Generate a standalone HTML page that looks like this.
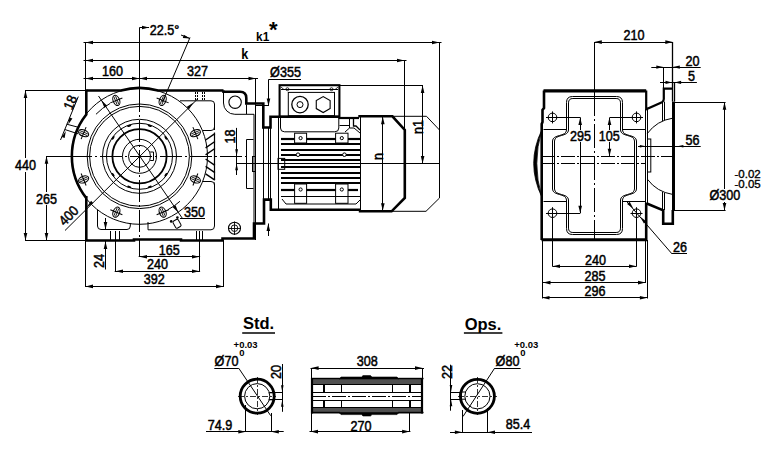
<!DOCTYPE html>
<html><head><meta charset="utf-8"><style>
html,body{margin:0;padding:0;background:#fff;}
svg{display:block;}
</style></head><body>
<svg width="782" height="452" viewBox="0 0 782 452" style="font-family:'Liberation Sans',sans-serif" stroke="#000" fill="none" stroke-linecap="butt">
<rect x="0" y="0" width="782" height="452" fill="#fff" stroke="none"/>
<g fill="#000">
<line x1="83.5" y1="42.5" x2="441.5" y2="42.5" stroke-width="1"/>
<path d="M85.5 42.5 L93 40.7 L93 44.3 Z" fill="#000" stroke="none"/>
<path d="M439.5 42.5 L432 44.3 L432 40.7 Z" fill="#000" stroke="none"/>
<line x1="83.5" y1="60.5" x2="406.5" y2="60.5" stroke-width="1"/>
<path d="M85.5 60.5 L93 58.7 L93 62.3 Z" fill="#000" stroke="none"/>
<path d="M404.5 60.5 L397 62.3 L397 58.7 Z" fill="#000" stroke="none"/>
<line x1="83.5" y1="78.5" x2="258" y2="78.5" stroke-width="1"/>
<path d="M85.5 78.5 L93 76.7 L93 80.3 Z" fill="#000" stroke="none"/>
<path d="M139.5 78.5 L132 80.3 L132 76.7 Z" fill="#000" stroke="none"/>
<path d="M139.5 78.5 L147 76.7 L147 80.3 Z" fill="#000" stroke="none"/>
<path d="M256 78.5 L248.5 80.3 L248.5 76.7 Z" fill="#000" stroke="none"/>
<line x1="85.5" y1="42" x2="85.5" y2="90" stroke-width="1"/>
<line x1="439.5" y1="42" x2="439.5" y2="198" stroke-width="1"/>
<line x1="404.5" y1="60" x2="404.5" y2="130" stroke-width="1"/>
<line x1="255.5" y1="78" x2="255.5" y2="240" stroke-width="1"/>
<text x="0" y="0" font-size="14" text-anchor="middle" font-weight="normal" stroke="#000" stroke-width="0.5" transform="translate(112.5 76) scale(0.9 1)">160</text>
<text x="0" y="0" font-size="14" text-anchor="middle" font-weight="normal" stroke="#000" stroke-width="0.5" transform="translate(197.5 76) scale(0.9 1)">327</text>
<text x="0" y="0" font-size="14" text-anchor="middle" font-weight="bold" stroke="#000" stroke-width="0" transform="translate(244.8 58.5) scale(0.9 1)">k</text>
<text x="0" y="0" font-size="13.2" text-anchor="middle" font-weight="bold" stroke="#000" stroke-width="0" transform="translate(262.7 41) scale(0.9 1)">k1</text>
<text x="0" y="0" font-size="22" text-anchor="middle" font-weight="bold" stroke="#000" stroke-width="0" transform="translate(273.4 37)">*</text>
<line x1="139.5" y1="27.5" x2="139.5" y2="90" stroke-width="1"/>
<line x1="139.5" y1="27.5" x2="149" y2="27.5" stroke-width="1"/>
<path d="M149 27.5 L142 29.2 L142 25.8 Z" fill="#000" stroke="none"/>
<text x="0" y="0" font-size="14" text-anchor="middle" font-weight="normal" stroke="#000" stroke-width="0.5" transform="translate(164.5 34.6) scale(0.9 1)">22.5°</text>
<line x1="181" y1="35" x2="190" y2="38.5" stroke-width="1"/>
<path d="M190 38.5 L182.82 37.95 L183.87 34.72 Z" fill="#000" stroke="none"/>
<line x1="190" y1="37.5" x2="162.5" y2="102" stroke-width="1"/>
<line x1="25" y1="90.5" x2="86" y2="90.5" stroke-width="1"/>
<line x1="25" y1="240.5" x2="86" y2="240.5" stroke-width="1"/>
<line x1="25.5" y1="90.5" x2="25.5" y2="240.5" stroke-width="1"/>
<path d="M25.5 90.5 L27.3 98 L23.7 98 Z" fill="#000" stroke="none"/>
<path d="M25.5 240.5 L23.7 233 L27.3 233 Z" fill="#000" stroke="none"/>
<line x1="46.5" y1="156.3" x2="46.5" y2="240.5" stroke-width="1"/>
<path d="M46.5 156.3 L48.3 163.8 L44.7 163.8 Z" fill="#000" stroke="none"/>
<path d="M46.5 240.5 L44.7 233 L48.3 233 Z" fill="#000" stroke="none"/>
<rect x="14" y="158" width="23" height="14" fill="#fff" stroke="none"/>
<text x="0" y="0" font-size="14" text-anchor="middle" font-weight="normal" stroke="#000" stroke-width="0.5" transform="translate(25.5 170) scale(0.9 1)">440</text>
<rect x="35" y="192" width="23" height="13" fill="#fff" stroke="none"/>
<text x="0" y="0" font-size="14" text-anchor="middle" font-weight="normal" stroke="#000" stroke-width="0.5" transform="translate(46.5 203.5) scale(0.9 1)">265</text>
<line x1="46" y1="156.5" x2="70" y2="156.5" stroke-width="1"/>
<line x1="70" y1="156.5" x2="246.5" y2="156.5" stroke-width="1" stroke-dasharray="22 3 2 3"/>
<line x1="139.5" y1="90" x2="139.5" y2="240" stroke-width="1" stroke-dasharray="22 3 2 3"/>
<circle cx="139.5" cy="156.3" r="68" stroke-width="1" fill="none"/>
<path d="M95.98 114.27 A60.5 60.5 0 0 1 110.17 103.39" stroke-width="1" fill="none"/>
<path d="M179.98 201.26 A60.5 60.5 0 0 1 167.9 209.72" stroke-width="1" fill="none"/>
<circle cx="139.5" cy="156.3" r="52.3" stroke-width="1" fill="none"/>
<circle cx="139.5" cy="156.3" r="49.9" stroke-width="1" fill="none"/>
<circle cx="139.5" cy="156.3" r="37" stroke-width="1" fill="none"/>
<circle cx="139.5" cy="156.3" r="33" stroke-width="1" fill="none"/>
<circle cx="139.5" cy="156.3" r="27.1" stroke-width="1.8" fill="none"/>
<circle cx="139.5" cy="156.3" r="17" stroke-width="1" fill="none"/>
<circle cx="139.5" cy="156.3" r="11" stroke-width="1" fill="none"/>
<path d="M150.2 152 L153.5 152 L153.5 160.5 L150.2 160.5" stroke-width="1" fill="none"/>
<ellipse cx="149.72" cy="125.76" rx="2.1" ry="1" transform="rotate(18.5 149.72 125.76)" fill="#000" stroke="none"/>
<ellipse cx="129.28" cy="125.76" rx="2.1" ry="1" transform="rotate(-18.5 129.28 125.76)" fill="#000" stroke="none"/>
<ellipse cx="165.88" cy="137.83" rx="2.1" ry="1" transform="rotate(55 165.88 137.83)" fill="#000" stroke="none"/>
<ellipse cx="113.12" cy="137.83" rx="2.1" ry="1" transform="rotate(-55 113.12 137.83)" fill="#000" stroke="none"/>
<ellipse cx="165.88" cy="174.77" rx="2.1" ry="1" transform="rotate(125 165.88 174.77)" fill="#000" stroke="none"/>
<ellipse cx="113.12" cy="174.77" rx="2.1" ry="1" transform="rotate(-125 113.12 174.77)" fill="#000" stroke="none"/>
<ellipse cx="149.72" cy="186.84" rx="2.1" ry="1" transform="rotate(161.5 149.72 186.84)" fill="#000" stroke="none"/>
<ellipse cx="129.28" cy="186.84" rx="2.1" ry="1" transform="rotate(-161.5 129.28 186.84)" fill="#000" stroke="none"/>
<g transform="translate(162.65 100.41) rotate(22.5)"><ellipse cx="0" cy="0" rx="3.2" ry="5.3" stroke-width="1.1" fill="none"/><line x1="-6.5" y1="0" x2="6.5" y2="0" stroke-width="1"/><line x1="-0.9" y1="-4.2" x2="-0.9" y2="4.2" stroke-width="0.8"/><line x1="0.9" y1="-4.2" x2="0.9" y2="4.2" stroke-width="0.8"/></g>
<g transform="translate(195.39 133.15) rotate(67.5)"><ellipse cx="0" cy="0" rx="3.2" ry="5.3" stroke-width="1.1" fill="none"/><line x1="-6.5" y1="0" x2="6.5" y2="0" stroke-width="1"/><line x1="-0.9" y1="-4.2" x2="-0.9" y2="4.2" stroke-width="0.8"/><line x1="0.9" y1="-4.2" x2="0.9" y2="4.2" stroke-width="0.8"/></g>
<g transform="translate(195.39 179.45) rotate(112.5)"><ellipse cx="0" cy="0" rx="3.2" ry="5.3" stroke-width="1.1" fill="none"/><line x1="-6.5" y1="0" x2="6.5" y2="0" stroke-width="1"/><line x1="-0.9" y1="-4.2" x2="-0.9" y2="4.2" stroke-width="0.8"/><line x1="0.9" y1="-4.2" x2="0.9" y2="4.2" stroke-width="0.8"/></g>
<g transform="translate(162.65 212.19) rotate(157.5)"><ellipse cx="0" cy="0" rx="3.2" ry="5.3" stroke-width="1.1" fill="none"/><line x1="-6.5" y1="0" x2="6.5" y2="0" stroke-width="1"/><line x1="-0.9" y1="-4.2" x2="-0.9" y2="4.2" stroke-width="0.8"/><line x1="0.9" y1="-4.2" x2="0.9" y2="4.2" stroke-width="0.8"/></g>
<g transform="translate(116.35 212.19) rotate(202.5)"><ellipse cx="0" cy="0" rx="3.2" ry="5.3" stroke-width="1.1" fill="none"/><line x1="-6.5" y1="0" x2="6.5" y2="0" stroke-width="1"/><line x1="-0.9" y1="-4.2" x2="-0.9" y2="4.2" stroke-width="0.8"/><line x1="0.9" y1="-4.2" x2="0.9" y2="4.2" stroke-width="0.8"/></g>
<g transform="translate(83.61 179.45) rotate(247.5)"><ellipse cx="0" cy="0" rx="3.2" ry="5.3" stroke-width="1.1" fill="none"/><line x1="-6.5" y1="0" x2="6.5" y2="0" stroke-width="1"/><line x1="-0.9" y1="-4.2" x2="-0.9" y2="4.2" stroke-width="0.8"/><line x1="0.9" y1="-4.2" x2="0.9" y2="4.2" stroke-width="0.8"/></g>
<g transform="translate(83.61 133.15) rotate(292.5)"><ellipse cx="0" cy="0" rx="3.2" ry="5.3" stroke-width="1.1" fill="none"/><line x1="-6.5" y1="0" x2="6.5" y2="0" stroke-width="1"/><line x1="-0.9" y1="-4.2" x2="-0.9" y2="4.2" stroke-width="0.8"/><line x1="0.9" y1="-4.2" x2="0.9" y2="4.2" stroke-width="0.8"/></g>
<g transform="translate(116.35 100.41) rotate(337.5)"><ellipse cx="0" cy="0" rx="3.2" ry="5.3" stroke-width="1.1" fill="none"/><line x1="-6.5" y1="0" x2="6.5" y2="0" stroke-width="1"/><line x1="-0.9" y1="-4.2" x2="-0.9" y2="4.2" stroke-width="0.8"/><line x1="0.9" y1="-4.2" x2="0.9" y2="4.2" stroke-width="0.8"/></g>
<path d="M86.3 90.5 L121 90.5 A68.3 68.3 0 0 1 158 90.5 L180 90.5 L223.5 90.5" stroke-width="2.6" fill="none"/>
<path d="M86.3 89.5 L86.3 114.5 A67.7 67.7 0 0 0 86.3 198.1" stroke-width="2.6" fill="none"/>
<path d="M86.3 196 L86.3 240.5 L134 240.5 L134 239.5 L181 239.5 L181 240.5 L222.5 240.5 L222.5 238.5 L254 238.5 L254 223.5 L264 223.5 L264 199.6 L270.8 199.6 L270.8 209.8 L285 209.8" stroke-width="2.6" fill="none"/>
<path d="M223.5 90.3 L223.5 91.8 L240 91.8 Q246.3 91.8 246.3 98 L246.3 103.5 L263.3 103.5 L263.3 127.5 L270.5 127.5 L270.5 116.8 L280 116.8" stroke-width="2.6" fill="none"/>
<circle cx="235.1" cy="102.2" r="6.2" stroke-width="1.1" fill="none"/>
<path d="M223.5 92 L223.5 103 A11.3 11.3 0 0 0 234.8 114.3 L254 114.3 L254 223.5" stroke-width="1" fill="none"/>
<line x1="246.5" y1="104.5" x2="246.5" y2="114" stroke-width="1"/>
<path d="M180 100.8 L211 100.8 Q214.5 100.8 214.5 104 L214.5 130" stroke-width="1" fill="none"/>
<path d="M214.5 182.5 Q214.5 182.5 214.5 186 L214.5 226 Q214.5 229.8 211 229.8 L148 229.8 Q148 229.8 148 226 L148 222" stroke-width="1" fill="none"/>
<path d="M130.3 223 L130.3 226 Q130.3 229.5 127 229.5 L101 229.5 Q97.5 229.5 97.5 226 L97.5 209.8" stroke-width="1" fill="none"/>
<line x1="205.6" y1="140" x2="214.9" y2="133.7" stroke-width="1.4"/>
<line x1="205.6" y1="147.8" x2="214.9" y2="141.5" stroke-width="1.4"/>
<line x1="205.6" y1="154.8" x2="214.9" y2="148.5" stroke-width="1.4"/>
<line x1="205.6" y1="159" x2="214.9" y2="165.3" stroke-width="1.4"/>
<line x1="205.6" y1="166.4" x2="214.9" y2="172.7" stroke-width="1.4"/>
<line x1="205.6" y1="173.8" x2="214.9" y2="180.1" stroke-width="1.4"/>
<line x1="214.5" y1="132.5" x2="214.5" y2="179.5" stroke-width="1.2"/>
<path d="M202.4 130.5 L211 130.5 Q214.5 130.5 214.5 127" stroke-width="1" fill="none"/>
<path d="M202.7 181.5 L211 181.5 Q214.5 181.5 214.5 185" stroke-width="1" fill="none"/>
<circle cx="234.5" cy="228.2" r="6" stroke-width="1.1" fill="none"/>
<circle cx="234.5" cy="228.2" r="3.3" stroke-width="0.9" fill="none"/>
<line x1="228" y1="228.5" x2="241" y2="228.5" stroke-width="0.9"/>
<line x1="234.5" y1="221.5" x2="234.5" y2="235" stroke-width="0.9"/>
<line x1="195.5" y1="92" x2="195.5" y2="100" stroke-width="1" stroke-dasharray="2 1"/>
<line x1="197.5" y1="92" x2="197.5" y2="100" stroke-width="1" stroke-dasharray="2 1"/>
<line x1="202.5" y1="92" x2="202.5" y2="100" stroke-width="1" stroke-dasharray="2 1"/>
<line x1="204.5" y1="92" x2="204.5" y2="100" stroke-width="1" stroke-dasharray="2 1"/>
<line x1="110.5" y1="231" x2="110.5" y2="240" stroke-width="1"/>
<line x1="115.5" y1="231" x2="115.5" y2="240" stroke-width="1"/>
<line x1="119.5" y1="231" x2="119.5" y2="240" stroke-width="1"/>
<line x1="196.5" y1="231" x2="196.5" y2="240" stroke-width="1"/>
<line x1="199.5" y1="231" x2="199.5" y2="240" stroke-width="1"/>
<line x1="202.5" y1="231" x2="202.5" y2="240" stroke-width="1"/>
<path d="M253.5 139.5 L246.5 139.5 L246.5 188.5 L253.5 188.5" stroke-width="1" fill="none"/>
<rect x="252.5" y="156.5" width="3" height="15" rx="0" stroke-width="1" fill="none"/>
<line x1="255.4" y1="105.5" x2="268.2" y2="105.5" stroke-width="1"/>
<line x1="263.5" y1="127.5" x2="263.5" y2="199.6" stroke-width="1"/>
<line x1="268.5" y1="127.5" x2="268.5" y2="199.6" stroke-width="1"/>
<line x1="270.5" y1="127.5" x2="270.5" y2="199.6" stroke-width="1"/>
<line x1="278.5" y1="116.8" x2="278.5" y2="209.8" stroke-width="1"/>
<rect x="278" y="158.4" width="6.7" height="10.9" rx="0" stroke-width="1" fill="none"/>
<line x1="236.5" y1="127.9" x2="236.5" y2="175" stroke-width="1"/>
<path d="M236.6 156.3 L235.2 149.3 L238 149.3 Z" fill="#000" stroke="none"/>
<path d="M236.6 163.3 L238 170.3 L235.2 170.3 Z" fill="#000" stroke="none"/>
<line x1="236" y1="163.5" x2="440" y2="163.5" stroke-width="1"/>
<text x="0" y="0" font-size="14" text-anchor="middle" font-weight="normal" stroke="#000" stroke-width="0.5" transform="translate(235 136.5) rotate(-90) scale(0.9 1)">18</text>
<line x1="98.5" y1="96" x2="182.5" y2="218.5" stroke-width="1"/>
<path d="M101.3 100.2 L107.22 105.84 L104.42 107.76 Z" fill="#000" stroke="none"/>
<line x1="65" y1="230.5" x2="197" y2="99.5" stroke-width="1"/>
<path d="M193.5 102.5 L189.05 109.36 L186.64 106.95 Z" fill="#000" stroke="none"/>
<path d="M86.5 207.5 L91.1 200.78 L93.22 202.9 Z" fill="#000" stroke="none"/>
<text x="0" y="0" font-size="14" text-anchor="middle" font-weight="normal" stroke="#000" stroke-width="0.5" transform="translate(72 219) rotate(-45) scale(0.9 1)">400</text>
<text x="0" y="0" font-size="14" text-anchor="middle" font-weight="normal" stroke="#000" stroke-width="0.5" transform="translate(194.5 216.5) scale(0.9 1)">350</text>
<line x1="180" y1="218.5" x2="205" y2="218.5" stroke-width="1"/>
<path d="M178.4 212.4 L172.76 207.17 L175.57 205.25 Z" fill="#000" stroke="none"/>
<circle cx="177.4" cy="217.6" r="1.3" stroke-width="0" fill="#000"/>
<circle cx="171.2" cy="221.4" r="1.3" stroke-width="0" fill="#000"/>
<g transform="translate(176 222) rotate(-30)"><rect x="-3" y="-2" width="6" height="8" rx="1.5" stroke-width="1" fill="#fff"/></g>
<line x1="60.5" y1="140" x2="78.3" y2="96.6" stroke-width="1"/>
<line x1="66.7" y1="124.2" x2="78" y2="127.2" stroke-width="1"/>
<line x1="64.8" y1="129.5" x2="78" y2="133.8" stroke-width="1"/>
<path d="M68.3 124.5 L69.44 117.41 L72.41 118.61 Z" fill="#000" stroke="none"/>
<path d="M65.8 131 L64.66 138.09 L61.69 136.89 Z" fill="#000" stroke="none"/>
<text x="0" y="0" font-size="14" text-anchor="middle" font-weight="normal" stroke="#000" stroke-width="0.5" transform="translate(74.8 104.3) rotate(-67.5) scale(0.9 1)">18</text>
<line x1="105.5" y1="241" x2="105.5" y2="269.5" stroke-width="1"/>
<path d="M105.5 241.5 L107.3 249 L103.7 249 Z" fill="#000" stroke="none"/>
<line x1="105.5" y1="218" x2="105.5" y2="229.5" stroke-width="1"/>
<path d="M105.5 229.5 L103.7 222 L107.3 222 Z" fill="#000" stroke="none"/>
<text x="0" y="0" font-size="14" text-anchor="middle" font-weight="normal" stroke="#000" stroke-width="0.5" transform="translate(104 261) rotate(-90) scale(0.9 1)">24</text>
<line x1="138.7" y1="256.5" x2="200.1" y2="256.5" stroke-width="1"/>
<path d="M139.5 256.7 L147 254.9 L147 258.5 Z" fill="#000" stroke="none"/>
<path d="M199.5 256.7 L192 258.5 L192 254.9 Z" fill="#000" stroke="none"/>
<line x1="139.5" y1="240" x2="139.5" y2="257" stroke-width="1"/>
<line x1="199.5" y1="240" x2="199.5" y2="271" stroke-width="1"/>
<text x="0" y="0" font-size="14" text-anchor="middle" font-weight="normal" stroke="#000" stroke-width="0.5" transform="translate(169.2 254.8) scale(0.9 1)">165</text>
<line x1="114.7" y1="271.5" x2="200.1" y2="271.5" stroke-width="1"/>
<path d="M115.5 271.2 L123 269.4 L123 273 Z" fill="#000" stroke="none"/>
<path d="M199.5 271.2 L192 273 L192 269.4 Z" fill="#000" stroke="none"/>
<line x1="115.5" y1="240" x2="115.5" y2="271.5" stroke-width="1"/>
<text x="0" y="0" font-size="14" text-anchor="middle" font-weight="normal" stroke="#000" stroke-width="0.5" transform="translate(157.4 269.1) scale(0.9 1)">240</text>
<line x1="85.5" y1="286.5" x2="224" y2="286.5" stroke-width="1"/>
<path d="M85.5 286.4 L93 284.6 L93 288.2 Z" fill="#000" stroke="none"/>
<path d="M223.5 286.4 L216 288.2 L216 284.6 Z" fill="#000" stroke="none"/>
<line x1="85.5" y1="240" x2="85.5" y2="287" stroke-width="1"/>
<line x1="223.5" y1="240" x2="223.5" y2="287" stroke-width="1"/>
<text x="0" y="0" font-size="14" text-anchor="middle" font-weight="normal" stroke="#000" stroke-width="0.5" transform="translate(154.2 284) scale(0.9 1)">392</text>
<line x1="268.5" y1="79.5" x2="301" y2="79.5" stroke-width="1"/>
<line x1="268.5" y1="79.5" x2="268.5" y2="106" stroke-width="1"/>
<path d="M268.5 106 L266.7 98.5 L270.3 98.5 Z" fill="#000" stroke="none"/>
<text x="0" y="0" font-size="14" text-anchor="middle" font-weight="normal" stroke="#000" stroke-width="0.5" transform="translate(285.5 76.6) scale(0.9 1)">Ø355</text>
<line x1="268.5" y1="223.5" x2="268.5" y2="236" stroke-width="1"/>
<path d="M268.3 223.5 L270.1 231 L266.5 231 Z" fill="#000" stroke="none"/>
<rect x="279.6" y="85.2" width="59.8" height="31.5" rx="0" stroke-width="2.1" fill="none"/>
<line x1="281" y1="89.5" x2="338" y2="89.5" stroke-width="1"/>
<line x1="281" y1="87" x2="284" y2="89.6" stroke-width="0.8"/>
<line x1="338" y1="87" x2="335" y2="89.6" stroke-width="0.8"/>
<circle cx="287.4" cy="89.2" r="1.5" stroke-width="0.8" fill="none"/>
<circle cx="331.5" cy="89.2" r="1.5" stroke-width="0.8" fill="none"/>
<rect x="288.3" y="92.4" width="46.2" height="23.3" rx="0" stroke-width="1" fill="none"/>
<circle cx="300" cy="104.6" r="8.2" stroke-width="1.3" fill="none"/>
<circle cx="300" cy="104.6" r="3" stroke-width="1" fill="none"/>
<path d="M330.13 108.6 L323.2 112.6 L316.27 108.6 L316.27 100.6 L323.2 96.6 L330.13 100.6 Z" stroke-width="1.1" fill="none"/>
<path d="M280.5 116.8 L280.5 128 Q280.5 131.8 284.5 131.8 L334.8 131.8 Q338.8 131.8 338.8 128 L338.8 116.8" stroke-width="1" fill="none"/>
<line x1="339.5" y1="85.5" x2="423" y2="85.5" stroke-width="1"/>
<path d="M280 116.8 L339.5 116.8" stroke-width="2.6" fill="none"/>
<line x1="338.5" y1="118" x2="359" y2="118" stroke-width="2.2"/>
<line x1="339.5" y1="125.5" x2="349.5" y2="125.5" stroke-width="1"/>
<line x1="349.5" y1="119" x2="349.5" y2="128" stroke-width="1"/>
<path d="M345 132 L349.5 128 L354 128 L360 133" stroke-width="1" fill="none"/>
<path d="M353.5 119 L353.5 126 L356 126 L360 130" stroke-width="1.3" fill="none"/>
<path d="M358.3 116.3 L392.4 116.3 L404.8 130 L404.8 198 L391.6 211.3 L358.8 211.3" stroke-width="2.6" fill="none"/>
<path d="M392.4 116.3 L426.5 116.3 L439.5 130 L439.5 198 L426 211.3 L391.6 211.3" stroke-width="1" fill="none"/>
<line x1="360.5" y1="116.3" x2="360.5" y2="211.3" stroke-width="1"/>
<path d="M285 209.8 L360 209.8" stroke-width="2.6" fill="none"/>
<line x1="281" y1="144" x2="360" y2="144" stroke-width="2.2"/>
<line x1="281" y1="150" x2="360" y2="150" stroke-width="2.2"/>
<line x1="281" y1="155" x2="360" y2="155" stroke-width="2.2"/>
<line x1="281" y1="160" x2="360" y2="160" stroke-width="2.2"/>
<line x1="281" y1="167" x2="360" y2="167" stroke-width="2.2"/>
<line x1="281" y1="173" x2="360" y2="173" stroke-width="2.2"/>
<line x1="281" y1="178" x2="360" y2="178" stroke-width="2.2"/>
<line x1="281" y1="183" x2="360" y2="183" stroke-width="2.2"/>
<line x1="281" y1="139" x2="294.6" y2="139" stroke-width="2.2"/>
<line x1="306.6" y1="139" x2="336" y2="139" stroke-width="2.2"/>
<line x1="348" y1="139" x2="360" y2="139" stroke-width="2.2"/>
<line x1="281" y1="190" x2="294.6" y2="190" stroke-width="2.2"/>
<line x1="306.6" y1="190" x2="335.6" y2="190" stroke-width="2.2"/>
<line x1="348" y1="190" x2="358" y2="190" stroke-width="2.2"/>
<rect x="294.6" y="133.2" width="12" height="9.8" rx="0" stroke-width="1" fill="none"/>
<circle cx="300.6" cy="138.1" r="1.6" stroke-width="1" fill="none"/>
<rect x="294.6" y="184" width="12" height="19.3" rx="0" stroke-width="1" fill="none"/>
<circle cx="300.6" cy="189.5" r="1.6" stroke-width="1" fill="none"/>
<rect x="335.6" y="133.2" width="12.4" height="9.8" rx="0" stroke-width="1" fill="none"/>
<circle cx="341.8" cy="138.1" r="1.6" stroke-width="1" fill="none"/>
<rect x="335.6" y="184" width="12.4" height="19.3" rx="0" stroke-width="1" fill="none"/>
<circle cx="341.8" cy="189.5" r="1.6" stroke-width="1" fill="none"/>
<line x1="281" y1="196.5" x2="360" y2="196.5" stroke-width="1"/>
<circle cx="298" cy="154.7" r="1.8" stroke-width="1" fill="#fff"/>
<circle cx="344.4" cy="154.7" r="1.8" stroke-width="1" fill="#fff"/>
<path d="M282 199 L286 204 L356 204 L360 200" stroke-width="1" fill="none"/>
<line x1="382.5" y1="116.3" x2="382.5" y2="211.3" stroke-width="1"/>
<path d="M382.8 116.8 L384.6 124.3 L381 124.3 Z" fill="#000" stroke="none"/>
<path d="M382.8 210.8 L381 203.3 L384.6 203.3 Z" fill="#000" stroke="none"/>
<text x="0" y="0" font-size="14" text-anchor="middle" font-weight="normal" stroke="#000" stroke-width="0.5" transform="translate(383 156.5) rotate(-90) scale(0.9 1)">n</text>
<line x1="422.5" y1="85.5" x2="422.5" y2="163.4" stroke-width="1"/>
<path d="M422.6 85.5 L424.4 93 L420.8 93 Z" fill="#000" stroke="none"/>
<path d="M422.6 163.4 L420.8 155.9 L424.4 155.9 Z" fill="#000" stroke="none"/>
<text x="0" y="0" font-size="14" text-anchor="middle" font-weight="normal" stroke="#000" stroke-width="0.5" transform="translate(423 127) rotate(-90) scale(0.9 1)">n1</text>
<line x1="594.5" y1="42.5" x2="672.8" y2="42.5" stroke-width="1"/>
<path d="M594.3 42.1 L601.8 40.3 L601.8 43.9 Z" fill="#000" stroke="none"/>
<path d="M672.8 42.1 L665.3 43.9 L665.3 40.3 Z" fill="#000" stroke="none"/>
<text x="0" y="0" font-size="14" text-anchor="middle" font-weight="normal" stroke="#000" stroke-width="0.5" transform="translate(634 40) scale(0.9 1)">210</text>
<line x1="594.5" y1="42" x2="594.5" y2="92" stroke-width="1"/>
<line x1="594.5" y1="92" x2="594.5" y2="240" stroke-width="1" stroke-dasharray="24 3 2 3"/>
<line x1="651.3" y1="67.5" x2="700.7" y2="67.5" stroke-width="1"/>
<path d="M663.3 67.1 L656.3 68.8 L656.3 65.4 Z" fill="#000" stroke="none"/>
<path d="M672.8 67.1 L679.8 65.4 L679.8 68.8 Z" fill="#000" stroke="none"/>
<line x1="663.5" y1="67" x2="663.5" y2="89" stroke-width="1"/>
<text x="0" y="0" font-size="14" text-anchor="middle" font-weight="normal" stroke="#000" stroke-width="0.5" transform="translate(692.6 65.8) scale(0.9 1)">20</text>
<line x1="660" y1="82.5" x2="696.9" y2="82.5" stroke-width="1"/>
<path d="M672 82.4 L665.5 84 L665.5 80.8 Z" fill="#000" stroke="none"/>
<path d="M674.6 82.4 L681.1 80.8 L681.1 84 Z" fill="#000" stroke="none"/>
<line x1="674.5" y1="82" x2="674.5" y2="89" stroke-width="1"/>
<text x="0" y="0" font-size="14" text-anchor="middle" font-weight="normal" stroke="#000" stroke-width="0.5" transform="translate(691.5 80.7) scale(0.9 1)">5</text>
<path d="M543.5 90.8 L646.2 90.8" stroke-width="3.2" fill="none"/>
<path d="M544 90.5 L544 108 L542.5 110 L542.5 122 L541.7 124 L541.7 240" stroke-width="2.6" fill="none"/>
<path d="M646.2 90.5 L646.2 109.3 L662 102.2 Q663.8 101.2 663.8 99 L663.8 88.6 L672.6 88.6" stroke-width="2.21" fill="none"/>
<line x1="673.5" y1="101.6" x2="673.5" y2="210.5" stroke-width="3"/>
<line x1="672.5" y1="42" x2="672.5" y2="101.6" stroke-width="1.3"/>
<line x1="674.5" y1="82" x2="674.5" y2="101.6" stroke-width="1.3"/>
<path d="M646.2 203.2 L663.2 210.4 L663.2 223.7 L672.8 223.7 L672.8 209.9" stroke-width="2.6" fill="none"/>
<path d="M646.2 203 L646.2 240" stroke-width="2.6" fill="none"/>
<path d="M541.5 239.8 L647 239.8" stroke-width="3" fill="none"/>
<path d="M541.8 130 Q525.6 163.3 541.8 197 Q531.8 163.3 541.8 130 Z" fill="#000" stroke-width="0.8"/>
<path d="M566.5 130 L566.5 102.5 Q566.5 96.5 572.5 96.5 L616.5 96.5 Q622.5 96.5 622.5 102.5 L622.5 130 C622.5 137 636.5 134 636.5 141 L636.5 189 C636.5 196 622.5 193 622.5 200 L622.5 228.5 Q622.5 234.5 616.5 234.5 L572.5 234.5 Q566.5 234.5 566.5 228.5 L566.5 200 C566.5 193 552.5 196 552.5 189 L552.5 141 C552.5 134 566.5 137 566.5 130 Z" stroke-width="1" fill="none"/>
<path d="M568.5 130 L568.5 102.9 Q568.5 98.5 572.9 98.5 L616.1 98.5 Q620.5 98.5 620.5 102.9 L620.5 130 C620.5 137 634.5 134 634.5 141 L634.5 189 C634.5 196 620.5 193 620.5 200 L620.5 228.1 Q620.5 232.5 616.1 232.5 L572.9 232.5 Q568.5 232.5 568.5 228.1 L568.5 200 C568.5 193 554.5 196 554.5 189 L554.5 141 C554.5 134 568.5 137 568.5 130 Z" stroke-width="1" fill="none"/>
<circle cx="552.5" cy="117.4" r="4.3" stroke-width="1" fill="none"/>
<line x1="546.5" y1="117.5" x2="558.5" y2="117.5" stroke-width="1"/>
<line x1="552.5" y1="111.4" x2="552.5" y2="123.4" stroke-width="1"/>
<circle cx="636.5" cy="117.4" r="4.3" stroke-width="1" fill="none"/>
<line x1="630.5" y1="117.5" x2="642.5" y2="117.5" stroke-width="1"/>
<line x1="636.5" y1="111.4" x2="636.5" y2="123.4" stroke-width="1"/>
<circle cx="552.5" cy="213.2" r="4.3" stroke-width="1" fill="none"/>
<line x1="546.5" y1="213.5" x2="558.5" y2="213.5" stroke-width="1"/>
<line x1="552.5" y1="207.2" x2="552.5" y2="219.2" stroke-width="1"/>
<circle cx="636.5" cy="213.2" r="4.3" stroke-width="1" fill="none"/>
<line x1="630.5" y1="213.5" x2="642.5" y2="213.5" stroke-width="1"/>
<line x1="636.5" y1="207.2" x2="636.5" y2="219.2" stroke-width="1"/>
<line x1="546" y1="117.5" x2="580.2" y2="117.5" stroke-width="1"/>
<line x1="610" y1="117.5" x2="643" y2="117.5" stroke-width="1"/>
<line x1="546" y1="213.5" x2="580.2" y2="213.5" stroke-width="1"/>
<line x1="543.5" y1="129.5" x2="566.8" y2="129.5" stroke-width="1"/>
<line x1="623" y1="129.5" x2="646" y2="129.5" stroke-width="1"/>
<line x1="543.5" y1="201.5" x2="566.8" y2="201.5" stroke-width="1"/>
<line x1="623" y1="201.5" x2="646" y2="201.5" stroke-width="1"/>
<line x1="541" y1="156.5" x2="672" y2="156.5" stroke-width="1" stroke-dasharray="14 2 2 2"/>
<line x1="541" y1="163.5" x2="646" y2="163.5" stroke-width="1" stroke-dasharray="14 2 2 2"/>
<line x1="580.5" y1="117.4" x2="580.5" y2="213.2" stroke-width="1"/>
<path d="M580.2 117.4 L582 124.9 L578.4 124.9 Z" fill="#000" stroke="none"/>
<path d="M580.2 213.2 L578.4 205.7 L582 205.7 Z" fill="#000" stroke="none"/>
<line x1="609.5" y1="117.4" x2="609.5" y2="156.3" stroke-width="1"/>
<path d="M609.5 117.4 L611.3 124.9 L607.7 124.9 Z" fill="#000" stroke="none"/>
<path d="M609.5 156.3 L607.7 148.8 L611.3 148.8 Z" fill="#000" stroke="none"/>
<rect x="569" y="130" width="22" height="12" fill="#fff" stroke="none"/>
<text x="0" y="0" font-size="14" text-anchor="middle" font-weight="normal" stroke="#000" stroke-width="0.5" transform="translate(580.5 140.7) scale(0.9 1)">295</text>
<rect x="598" y="130" width="22" height="12" fill="#fff" stroke="none"/>
<text x="0" y="0" font-size="14" text-anchor="middle" font-weight="normal" stroke="#000" stroke-width="0.5" transform="translate(609.2 140.7) scale(0.9 1)">105</text>
<line x1="647.5" y1="109.3" x2="647.5" y2="203.2" stroke-width="1"/>
<line x1="645.5" y1="109.3" x2="645.5" y2="203.2" stroke-width="1"/>
<line x1="662.5" y1="101.6" x2="662.5" y2="121" stroke-width="1"/>
<line x1="662.5" y1="192" x2="662.5" y2="210" stroke-width="1"/>
<line x1="664.5" y1="101.6" x2="664.5" y2="120" stroke-width="1"/>
<line x1="664.5" y1="193" x2="664.5" y2="210" stroke-width="1"/>
<path d="M647.4 133.4 A38.7 38.7 0 0 1 672.6 118.2" stroke-width="1" fill="none"/>
<path d="M647.4 179.2 A38.7 38.7 0 0 0 672.6 194.4" stroke-width="1" fill="none"/>
<rect x="647.5" y="139" width="3.3" height="33" rx="0" stroke-width="1" fill="none"/>
<line x1="638" y1="146.5" x2="700.7" y2="146.5" stroke-width="1"/>
<path d="M645.8 146.3 L639.8 147.6 L639.8 145 Z" fill="#000" stroke="none"/>
<path d="M677.4 146.3 L683.4 145 L683.4 147.6 Z" fill="#000" stroke="none"/>
<text x="0" y="0" font-size="14" text-anchor="middle" font-weight="normal" stroke="#000" stroke-width="0.5" transform="translate(692.6 145) scale(0.9 1)">56</text>
<line x1="674" y1="102.5" x2="725.6" y2="102.5" stroke-width="1"/>
<line x1="674" y1="210.5" x2="725.6" y2="210.5" stroke-width="1"/>
<line x1="724.5" y1="102.3" x2="724.5" y2="210.4" stroke-width="1"/>
<path d="M724.5 102.3 L726.3 109.8 L722.7 109.8 Z" fill="#000" stroke="none"/>
<path d="M724.5 210.4 L722.7 202.9 L726.3 202.9 Z" fill="#000" stroke="none"/>
<rect x="708" y="189" width="33" height="13" fill="#fff" stroke="none"/>
<text x="0" y="0" font-size="14" text-anchor="middle" font-weight="normal" stroke="#000" stroke-width="0.5" transform="translate(724.8 200) scale(0.9 1)">Ø300</text>
<text x="0" y="0" font-size="11.5" text-anchor="middle" font-weight="normal" stroke="#000" stroke-width="0.35" transform="translate(747.6 178.4)">-0.02</text>
<text x="0" y="0" font-size="11.5" text-anchor="middle" font-weight="normal" stroke="#000" stroke-width="0.35" transform="translate(747.6 188.3)">-0.05</text>
<line x1="626.5" y1="201.3" x2="671.5" y2="253.3" stroke-width="1"/>
<path d="M633.3 208.6 L627.12 204.02 L629.7 201.81 Z" fill="#000" stroke="none"/>
<path d="M640.3 216.8 L646.48 221.38 L643.9 223.59 Z" fill="#000" stroke="none"/>
<text x="0" y="0" font-size="14" text-anchor="middle" font-weight="normal" stroke="#000" stroke-width="0.5" transform="translate(680 252.2) scale(0.9 1)">26</text>
<line x1="671.3" y1="253.5" x2="687" y2="253.5" stroke-width="1"/>
<line x1="552.5" y1="218" x2="552.5" y2="266.5" stroke-width="1"/>
<line x1="636.5" y1="218" x2="636.5" y2="266.5" stroke-width="1"/>
<line x1="552.5" y1="266.5" x2="636.5" y2="266.5" stroke-width="1"/>
<path d="M552.5 266.3 L560 264.5 L560 268.1 Z" fill="#000" stroke="none"/>
<path d="M636.5 266.3 L629 268.1 L629 264.5 Z" fill="#000" stroke="none"/>
<text x="0" y="0" font-size="14" text-anchor="middle" font-weight="normal" stroke="#000" stroke-width="0.5" transform="translate(595.5 265.2) scale(0.9 1)">240</text>
<line x1="542.5" y1="240" x2="542.5" y2="298.5" stroke-width="1"/>
<line x1="645.5" y1="240" x2="645.5" y2="283" stroke-width="1"/>
<line x1="647.5" y1="240" x2="647.5" y2="298.5" stroke-width="1"/>
<line x1="543" y1="282.5" x2="645.5" y2="282.5" stroke-width="1"/>
<path d="M543 282.6 L550.5 280.8 L550.5 284.4 Z" fill="#000" stroke="none"/>
<path d="M645.5 282.6 L638 284.4 L638 280.8 Z" fill="#000" stroke="none"/>
<text x="0" y="0" font-size="14" text-anchor="middle" font-weight="normal" stroke="#000" stroke-width="0.5" transform="translate(595 280.9) scale(0.9 1)">285</text>
<line x1="542" y1="297.5" x2="647.4" y2="297.5" stroke-width="1"/>
<path d="M542 297.8 L549.5 296 L549.5 299.6 Z" fill="#000" stroke="none"/>
<path d="M647.4 297.8 L639.9 299.6 L639.9 296 Z" fill="#000" stroke="none"/>
<text x="0" y="0" font-size="14" text-anchor="middle" font-weight="normal" stroke="#000" stroke-width="0.5" transform="translate(595 296) scale(0.9 1)">296</text>
<text x="0" y="0" font-size="16.5" text-anchor="middle" font-weight="bold" stroke="#000" stroke-width="0" transform="translate(258.5 329.2)">Std.</text>
<line x1="242.2" y1="333" x2="275" y2="333" stroke-width="1.6"/>
<text x="0" y="0" font-size="9.5" text-anchor="middle" font-weight="bold" stroke="#000" stroke-width="0" transform="translate(245.6 347.8)">+0.03</text>
<text x="0" y="0" font-size="9.5" text-anchor="middle" font-weight="bold" stroke="#000" stroke-width="0" transform="translate(241.8 355.5)">0</text>
<text x="0" y="0" font-size="14" text-anchor="middle" font-weight="normal" stroke="#000" stroke-width="0.5" transform="translate(226.5 366) scale(0.9 1)">Ø70</text>
<line x1="214.3" y1="368.5" x2="238.8" y2="368.5" stroke-width="1"/>
<line x1="238.8" y1="368.3" x2="270.7" y2="415.7" stroke-width="1"/>
<circle cx="257.2" cy="396.2" r="17" stroke-width="2.8" fill="none"/>
<circle cx="257.2" cy="396.2" r="12.6" stroke-width="1" fill="none"/>
<path d="M268.7 392.8 L274.2 392.8 L274.2 399.8 L268.7 399.8" stroke-width="1" fill="none"/>
<line x1="238" y1="396.5" x2="276" y2="396.5" stroke-width="0.8" stroke-dasharray="6 2 2 2"/>
<line x1="257.5" y1="377" x2="257.5" y2="415" stroke-width="0.8" stroke-dasharray="6 2 2 2"/>
<line x1="269.7" y1="392.5" x2="282.3" y2="392.5" stroke-width="1"/>
<line x1="269.7" y1="399.5" x2="282.3" y2="399.5" stroke-width="1"/>
<line x1="282.5" y1="364" x2="282.5" y2="411.8" stroke-width="1"/>
<path d="M282.3 392.3 L281 385.3 L283.6 385.3 Z" fill="#000" stroke="none"/>
<path d="M282.3 399.8 L283.6 406.8 L281 406.8 Z" fill="#000" stroke="none"/>
<text x="0" y="0" font-size="14" text-anchor="middle" font-weight="normal" stroke="#000" stroke-width="0.5" transform="translate(281 372) rotate(-90) scale(0.9 1)">20</text>
<line x1="206" y1="431.5" x2="283.7" y2="431.5" stroke-width="1"/>
<path d="M245.8 431.7 L238.3 433.5 L238.3 429.9 Z" fill="#000" stroke="none"/>
<path d="M271.3 431.7 L278.8 429.9 L278.8 433.5 Z" fill="#000" stroke="none"/>
<line x1="245.5" y1="405" x2="245.5" y2="431.7" stroke-width="1"/>
<line x1="271.5" y1="413" x2="271.5" y2="431.7" stroke-width="1"/>
<text x="0" y="0" font-size="14" text-anchor="middle" font-weight="normal" stroke="#000" stroke-width="0.5" transform="translate(220 429.7) scale(0.9 1)">74.9</text>
<line x1="310.5" y1="368.5" x2="424" y2="368.5" stroke-width="1"/>
<path d="M311.1 368.1 L318.6 366.3 L318.6 369.9 Z" fill="#000" stroke="none"/>
<path d="M422.5 368.1 L415 369.9 L415 366.3 Z" fill="#000" stroke="none"/>
<line x1="311.5" y1="368" x2="311.5" y2="378" stroke-width="1"/>
<line x1="422.5" y1="368" x2="422.5" y2="378" stroke-width="1"/>
<text x="0" y="0" font-size="14" text-anchor="middle" font-weight="normal" stroke="#000" stroke-width="0.5" transform="translate(367.3 366) scale(0.9 1)">308</text>
<rect x="311" y="378.2" width="112" height="6" fill="#505050" stroke="none"/>
<rect x="311" y="407.9" width="112" height="5.6" fill="#505050" stroke="none"/>
<line x1="312" y1="378" x2="312" y2="413.5" stroke-width="2.2"/>
<line x1="422" y1="378" x2="422" y2="413.5" stroke-width="2.2"/>
<line x1="311" y1="378.5" x2="340" y2="378.5" stroke-width="1.4"/>
<line x1="398.2" y1="378.5" x2="423.5" y2="378.5" stroke-width="1.4"/>
<line x1="311" y1="412.5" x2="340" y2="412.5" stroke-width="1.4"/>
<line x1="398.2" y1="412.5" x2="423.5" y2="412.5" stroke-width="1.4"/>
<path d="M339 379 L341 377 L361.5 377 L363 375.6 L370.5 375.6 L372 377 L397 377 L399 379 Z" fill="#000" stroke-width="0.6"/>
<path d="M339 412.6 L341 414.6 L361.5 414.6 L363 416 L370.5 416 L372 414.6 L397 414.6 L399 412.6 Z" fill="#000" stroke-width="0.6"/>
<line x1="311" y1="384.5" x2="423" y2="384.5" stroke-width="1.2"/>
<line x1="311" y1="407.5" x2="423" y2="407.5" stroke-width="1.2"/>
<line x1="311" y1="392.5" x2="423" y2="392.5" stroke-width="1"/>
<line x1="311" y1="400.5" x2="423" y2="400.5" stroke-width="1"/>
<line x1="324" y1="384.4" x2="324" y2="392.1" stroke-width="2"/>
<line x1="324" y1="400" x2="324" y2="407.6" stroke-width="2"/>
<line x1="341.5" y1="384.4" x2="341.5" y2="392.1" stroke-width="1"/>
<line x1="341.5" y1="400" x2="341.5" y2="407.6" stroke-width="1"/>
<line x1="392.5" y1="384.4" x2="392.5" y2="392.1" stroke-width="1"/>
<line x1="392.5" y1="400" x2="392.5" y2="407.6" stroke-width="1"/>
<line x1="410" y1="384.4" x2="410" y2="392.1" stroke-width="2"/>
<line x1="410" y1="400" x2="410" y2="407.6" stroke-width="2"/>
<line x1="312" y1="396.5" x2="421" y2="396.5" stroke-width="1" stroke-dasharray="14 2 2 2"/>
<line x1="311.5" y1="413" x2="311.5" y2="432" stroke-width="1"/>
<line x1="409.5" y1="413" x2="409.5" y2="432" stroke-width="1"/>
<line x1="309.5" y1="431.5" x2="410.4" y2="431.5" stroke-width="1"/>
<path d="M310.5 431.6 L318 429.8 L318 433.4 Z" fill="#000" stroke="none"/>
<path d="M409.6 431.6 L402.1 433.4 L402.1 429.8 Z" fill="#000" stroke="none"/>
<text x="0" y="0" font-size="14" text-anchor="middle" font-weight="normal" stroke="#000" stroke-width="0.5" transform="translate(361 430.8) scale(0.9 1)">270</text>
<text x="0" y="0" font-size="16.5" text-anchor="middle" font-weight="bold" stroke="#000" stroke-width="0" transform="translate(483 330)">Ops.</text>
<line x1="463.9" y1="333" x2="502.4" y2="333" stroke-width="1.6"/>
<text x="0" y="0" font-size="9.5" text-anchor="middle" font-weight="bold" stroke="#000" stroke-width="0" transform="translate(526.3 348)">+0.03</text>
<text x="0" y="0" font-size="9.5" text-anchor="middle" font-weight="bold" stroke="#000" stroke-width="0" transform="translate(523 355.5)">0</text>
<text x="0" y="0" font-size="14" text-anchor="middle" font-weight="normal" stroke="#000" stroke-width="0.5" transform="translate(507.5 366) scale(0.9 1)">Ø80</text>
<line x1="494.7" y1="368.5" x2="520.6" y2="368.5" stroke-width="1"/>
<line x1="494.7" y1="368.1" x2="463" y2="416.5" stroke-width="1"/>
<circle cx="477.4" cy="396.3" r="17" stroke-width="2.8" fill="none"/>
<circle cx="477.4" cy="396.3" r="12.6" stroke-width="1" fill="none"/>
<path d="M466 392 L461.5 392 L461.5 399.2 L466 399.2" stroke-width="1" fill="none"/>
<line x1="458" y1="396.5" x2="497" y2="396.5" stroke-width="0.8" stroke-dasharray="6 2 2 2"/>
<line x1="477.5" y1="377" x2="477.5" y2="415" stroke-width="0.8" stroke-dasharray="6 2 2 2"/>
<line x1="451" y1="392.5" x2="462" y2="392.5" stroke-width="1"/>
<line x1="451" y1="399.5" x2="462" y2="399.5" stroke-width="1"/>
<line x1="450.5" y1="364.7" x2="450.5" y2="410.7" stroke-width="1"/>
<path d="M451 392 L449.7 385 L452.3 385 Z" fill="#000" stroke="none"/>
<path d="M451 399.2 L452.3 406.2 L449.7 406.2 Z" fill="#000" stroke="none"/>
<text x="0" y="0" font-size="14" text-anchor="middle" font-weight="normal" stroke="#000" stroke-width="0.5" transform="translate(451.5 372) rotate(-90) scale(0.9 1)">22</text>
<line x1="450" y1="432.5" x2="532" y2="432.5" stroke-width="1"/>
<path d="M462.4 432.3 L454.9 434.1 L454.9 430.5 Z" fill="#000" stroke="none"/>
<path d="M487.5 432.3 L495 430.5 L495 434.1 Z" fill="#000" stroke="none"/>
<line x1="462.5" y1="410" x2="462.5" y2="432.3" stroke-width="1"/>
<line x1="487.5" y1="408" x2="487.5" y2="432.3" stroke-width="1"/>
<text x="0" y="0" font-size="14" text-anchor="middle" font-weight="normal" stroke="#000" stroke-width="0.5" transform="translate(518 429.4) scale(0.9 1)">85.4</text>
</g>
</svg>
</body></html>
